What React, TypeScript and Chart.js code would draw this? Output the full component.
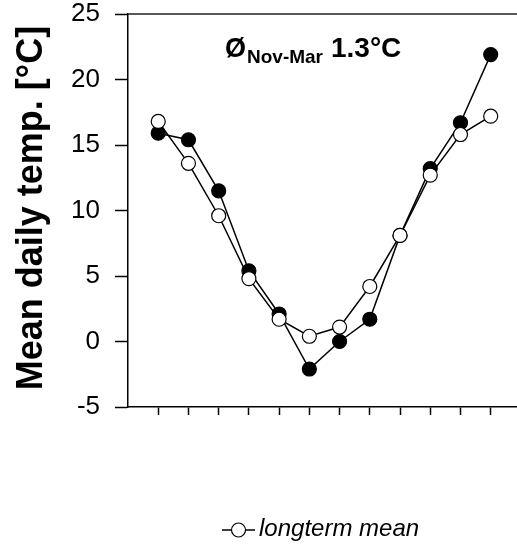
import React, { useEffect, useRef } from "react";
import { Chart, registerables } from "chart.js";

Chart.register(...registerables);

// Month positions along the x axis (Aug .. Jul)
const monthIndex = [1, 2, 3, 4, 5, 6, 7, 8, 9, 10, 11, 12];

// Mean daily temperature of the season [°C]
const seasonTemp = [15.9, 15.4, 11.5, 5.4, 2.1, -2.1, 0.0, 1.7, 8.1, 13.2, 16.7, 21.9];

// Long-term monthly mean [°C]
const longtermTemp = [16.8, 13.6, 9.6, 4.8, 1.7, 0.4, 1.1, 4.2, 8.1, 12.7, 15.8, 17.2];

const yTicks = [-5, 0, 5, 10, 15, 20, 25];

const yTitle = "Mean daily temp. [°C]";
const legendLabel = "longterm mean";
const noteSymbol = "Ø";
const noteSub = "Nov-Mar";
const noteValue = "1.3°C";

const FONT = '"Liberation Sans", Arial, Helvetica, sans-serif';

const W = 517;
const H = 547;

const decorations = {
  id: "decorations",
  afterDraw(chart: any) {
    const { ctx, chartArea } = chart;
    ctx.save();

    // top frame line
    ctx.strokeStyle = "#222";
    ctx.lineWidth = 1.5;
    ctx.beginPath();
    ctx.moveTo(chartArea.left, chartArea.top);
    ctx.lineTo(chartArea.right, chartArea.top);
    ctx.stroke();

    // rotated y axis title
    ctx.fillStyle = "#000";
    ctx.font = `bold 36px ${FONT}`;
    ctx.textAlign = "center";
    ctx.textBaseline = "alphabetic";
    ctx.translate(42, 208);
    ctx.rotate(-Math.PI / 2);
    ctx.fillText(yTitle, 0, 0);
    ctx.setTransform(1, 0, 0, 1, 0, 0);

    // seasonal mean note
    ctx.textAlign = "left";
    ctx.font = `bold 27px ${FONT}`;
    ctx.fillText(noteSymbol, 225, 57);
    ctx.font = `bold 19px ${FONT}`;
    ctx.fillText(noteSub, 247, 63);
    ctx.font = `bold 28px ${FONT}`;
    ctx.fillText(noteValue, 331, 57);

    // legend: line with open marker, then label
    const ly = 530;
    ctx.strokeStyle = "#000";
    ctx.lineWidth = 1.5;
    ctx.beginPath();
    ctx.moveTo(222, ly);
    ctx.lineTo(255, ly);
    ctx.stroke();
    ctx.beginPath();
    ctx.arc(238.5, ly, 7, 0, Math.PI * 2);
    ctx.fillStyle = "#fff";
    ctx.fill();
    ctx.lineWidth = 1.2;
    ctx.stroke();
    ctx.fillStyle = "#000";
    ctx.font = `italic 24px ${FONT}`;
    ctx.textBaseline = "alphabetic";
    ctx.fillText(legendLabel, 259, 536);

    ctx.restore();
  },
};

export default function App() {
  const canvasRef = useRef<HTMLCanvasElement | null>(null);

  useEffect(() => {
    const canvas = canvasRef.current;
    if (!canvas) return;

    const chart = new Chart(canvas, {
      type: "line",
      data: {
        datasets: [
          {
            label: legendLabel,
            data: monthIndex.map((m, i) => ({ x: m, y: longtermTemp[i] })),
            borderColor: "#000",
            borderWidth: 1.5,
            pointRadius: 7,
            pointBorderWidth: 1.2,
            pointBackgroundColor: "#fff",
            pointBorderColor: "#000",
            tension: 0,
          },
          {
            label: "season",
            data: monthIndex.map((m, i) => ({ x: m, y: seasonTemp[i] })),
            borderColor: "#000",
            borderWidth: 1.5,
            pointRadius: 7,
            pointBorderWidth: 1.2,
            pointBackgroundColor: "#000",
            pointBorderColor: "#000",
            tension: 0,
          },
        ],
      },
      options: {
        responsive: false,
        animation: false,
        devicePixelRatio: 1,
        layout: { autoPadding: false, padding: { top: 14, left: 0, right: 0, bottom: 0 } },
        plugins: {
          legend: { display: false },
          tooltip: { enabled: false },
          title: { display: false },
        },
        scales: {
          x: {
            type: "linear",
            min: 0,
            max: 12.87,
            afterBuildTicks(scale: any) {
              scale.ticks = monthIndex.map((v) => ({ value: v }));
            },
            afterFit(scale: any) {
              scale.height = H - 14 - 393;
              scale.paddingLeft = 0;
              scale.paddingRight = 0;
              scale.paddingTop = 0;
              scale.paddingBottom = 0;
            },
            ticks: { display: false },
            grid: {
              drawOnChartArea: false,
              drawTicks: true,
              tickLength: 8,
              tickColor: "#000",
              tickWidth: 1.5,
            },
            border: { display: true, color: "#000", width: 1.5 },
          },
          y: {
            type: "linear",
            min: -5,
            max: 25,
            afterBuildTicks(scale: any) {
              scale.ticks = yTicks.map((v) => ({ value: v }));
            },
            afterFit(scale: any) {
              scale.width = 128;
              scale.paddingLeft = 0;
              scale.paddingRight = 0;
              scale.paddingTop = 0;
              scale.paddingBottom = 0;
            },
            ticks: {
              color: "#000",
              padding: 15,
              font: { family: FONT, size: 26 },
            },
            grid: {
              drawOnChartArea: false,
              drawTicks: true,
              tickLength: 13,
              tickColor: "#000",
              tickWidth: 1.5,
            },
            border: { display: true, color: "#000", width: 1.5 },
          },
        },
      },
      plugins: [decorations],
    });

    return () => chart.destroy();
  }, []);

  return (
    <div style={{ position: "absolute", left: 0, top: 0, width: W, height: H, background: "#fff" }}>
      <canvas ref={canvasRef} width={W} height={H} style={{ display: "block" }} />
    </div>
  );
}
